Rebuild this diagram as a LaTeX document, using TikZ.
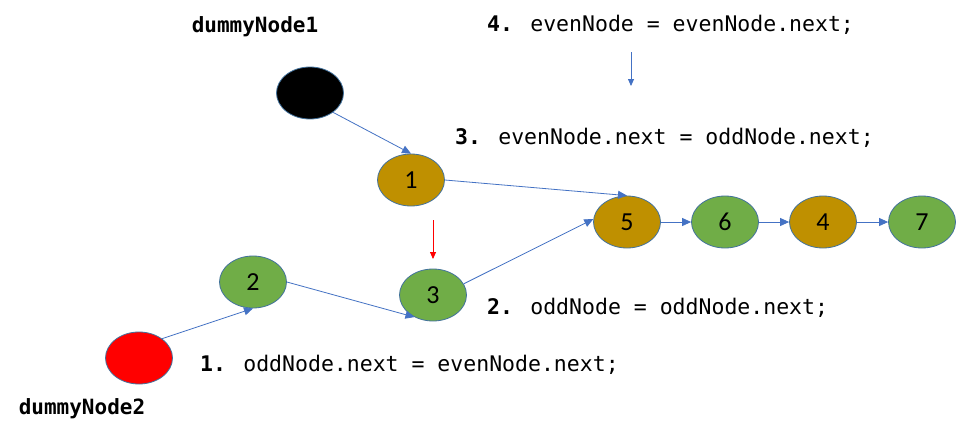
\documentclass[tikz,border=0pt]{standalone}
\usepackage{fontspec}
\setmainfont{Carlito}
\newfontfamily\codefont{DejaVu Sans Mono}
\usetikzlibrary{shapes.geometric,arrows.meta}
\definecolor{lnk}{RGB}{68,114,196}
\definecolor{gold}{RGB}{191,144,0}
\definecolor{grn}{RGB}{112,173,71}
\definecolor{edge}{RGB}{65,113,156}
\tikzset{
  lnode/.style={ellipse, draw=edge, line width=0.8pt, minimum width=67pt, minimum height=52pt, inner sep=0pt, font=\fontsize{26}{28}\selectfont},
  oddn/.style={lnode, fill=gold},
  evenn/.style={lnode, fill=grn},
  link/.style={draw=lnk, line width=0.8pt, -{Triangle[width=8pt,length=9pt]}},
  code/.style={font=\codefont\fontsize{21.5}{26}\selectfont, anchor=west, inner sep=0pt},
  lbl/.style={font=\codefont\bfseries\fontsize{21}{24}\selectfont, inner sep=0pt},
}
\begin{document}
\begin{tikzpicture}[x=1pt,y=-1pt]
\useasboundingbox[fill=white] (0,0) rectangle (957,437);
\node[lnode, fill=black] (blk) at (310,93) {};
\node[oddn] (n1) at (411,180) {1};
\node[oddn] (n5) at (627,222) {5};
\node[evenn] (n6) at (725,222) {6};
\node[oddn] (n4) at (823,222) {4};
\node[evenn] (n7) at (922,222) {7};
\node[evenn] (n2) at (253,282) {2};
\node[evenn] (n3) at (433,295) {3};
\node[lnode, fill=red] (red) at (139,358) {};
\node[lbl] (d1) at (255,27) {dummyNode1};
\node[lbl] (d2) at (82,409) {dummyNode2};
\node[code] (c4) at (487,25) {\textbf{4.} evenNode = evenNode.next;};
\node[code] (c3) at (455,138) {\textbf{3.} evenNode.next = oddNode.next;};
\node[code] (c2) at (487,308) {\textbf{2.} oddNode = oddNode.next;};
\node[code] (c1) at (200,365) {\textbf{1.} oddNode.next = evenNode.next;};
\coordinate (a4s) at (631,52);
\coordinate (a4e) at (631,86);
\coordinate (a3s) at (433,220);
\coordinate (a3e) at (433,259);
\draw[draw=lnk, line width=0.8pt, -{Triangle[width=6pt,length=7pt]}] (a4s) -- (a4e);
\draw[draw=red, line width=0.8pt, -{Triangle[width=6pt,length=7pt]}] (a3s) -- (a3e);
\path[link] (blk.-40) -- (n1.north);
\path[link] (n1.east) -- (n5.north);
\path[link] (red.40) -- (n2.south);
\path[link] (n2.east) -- (n3.-130);
\path[link] (n3.20) -- (n5.175);
\path[link] (n5) -- (n6);
\path[link] (n6) -- (n4);
\path[link] (n4) -- (n7);
\end{tikzpicture}
\end{document}
